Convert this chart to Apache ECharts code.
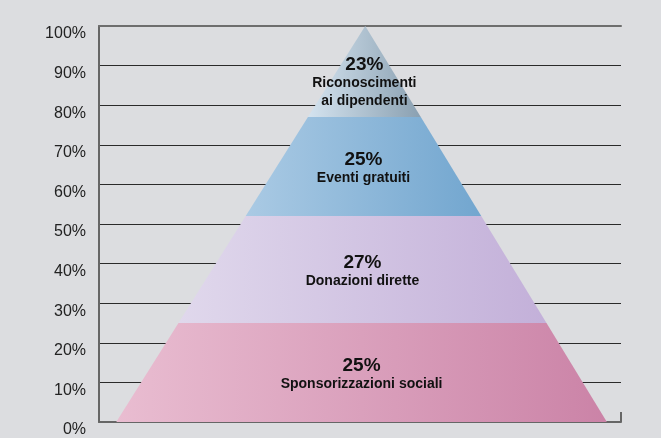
<!DOCTYPE html>
<html>
<head>
<meta charset="utf-8">
<script src="https://cdn.jsdelivr.net/npm/echarts@6/dist/echarts.min.js"></script>
<style>
  html, body { margin: 0; padding: 0; background: #dcdde0; }
  #chart { width: 661px; height: 438px; }
</style>
</head>
<body>
<div id="chart"></div>
<script>
// livelli della piramide, dal basso verso l'alto
var categories = ['Sponsorizzazioni sociali', 'Donazioni dirette', 'Eventi gratuiti', 'Riconoscimenti\nai dipendenti'];
var values = [25, 27, 25, 23];
var leftColors = ['#e9bdd1', '#e0d8ec', '#aacae4', '#d4e3ef'];
var rightColors = ['#cb83a7', '#c3b0d9', '#72a6cf', '#8aa0b1'];

// geometria della piramide in unita' dell'asse x (0-100)
var BASE_L = 3.3, BASE_R = 97.3, APEX = 51;

var data = [];
var acc = 0;
for (var i = 0; i < values.length; i++) {
  data.push([acc, acc + values[i], i]);
  acc += values[i];
}

function leftX(y) { return BASE_L + (APEX - BASE_L) * y / 100; }
function rightX(y) { return BASE_R + (APEX - BASE_R) * y / 100; }

var FONT = "'Liberation Sans', Arial, sans-serif";
var myChart = echarts.init(document.getElementById('chart'));

myChart.setOption({
  backgroundColor: '#dcdde0',
  animation: false,
  grid: { left: 99, right: 40, top: 26, bottom: 16 },
  xAxis: [{
    type: 'value', min: 0, max: 100, interval: 100, position: 'bottom',
    axisLine: { show: true, lineStyle: { color: '#666', width: 2 } },
    axisTick: { show: true, inside: true, length: 10, lineStyle: { color: '#666', width: 2 } },
    axisLabel: { show: false },
    splitLine: { show: false }
  }, {
    type: 'value', min: 0, max: 100, position: 'top',
    axisLine: { show: true, lineStyle: { color: '#6e6e6e', width: 2 } },
    axisTick: { show: false },
    axisLabel: { show: false },
    splitLine: { show: false }
  }],
  yAxis: {
    type: 'value', min: 0, max: 100, interval: 10,
    axisLine: { show: true, lineStyle: { color: '#666', width: 2 } },
    axisTick: { show: false },
    axisLabel: {
      formatter: '{value}%', fontSize: 16, color: '#222', fontFamily: FONT,
      margin: 13, verticalAlign: 'top'
    },
    splitLine: { show: true, lineStyle: { color: '#2a2a2a', width: 1 } }
  },
  series: [{
    type: 'custom',
    clip: false,
    data: data,
    renderItem: function (params, api) {
      var y0 = api.value(0), y1 = api.value(1), idx = api.value(2);
      var pts = [
        api.coord([leftX(y0), y0]),
        api.coord([rightX(y0), y0]),
        api.coord([rightX(y1), y1]),
        api.coord([leftX(y1), y1])
      ];
      var mid = api.coord([APEX, (y0 + y1) / 2]);
      var cx = (pts[0][0] + pts[1][0]) / 2;
      return {
        type: 'group',
        children: [{
          type: 'polygon',
          shape: { points: pts },
          style: {
            fill: new echarts.graphic.LinearGradient(0, 0, 1, 0, [
              { offset: 0, color: leftColors[idx] },
              { offset: 1, color: rightColors[idx] }
            ])
          }
        }, {
          type: 'text',
          z2: 10,
          style: {
            text: '{p|' + values[idx] + '%}\n{n|' + categories[idx].split('\n').join('}\n{n|') + '}',
            x: cx,
            y: mid[1] - 17,
            align: 'center',
            verticalAlign: 'top',
            fill: '#111',
            rich: {
              p: { fontSize: 19, fontWeight: 'bold', lineHeight: 20, fontFamily: FONT, fill: '#111', align: 'center' },
              n: { fontSize: 14, fontWeight: 'bold', lineHeight: 18, fontFamily: FONT, fill: '#111', align: 'center' }
            }
          }
        }]
      };
    }
  }]
});
</script>
</body>
</html>
